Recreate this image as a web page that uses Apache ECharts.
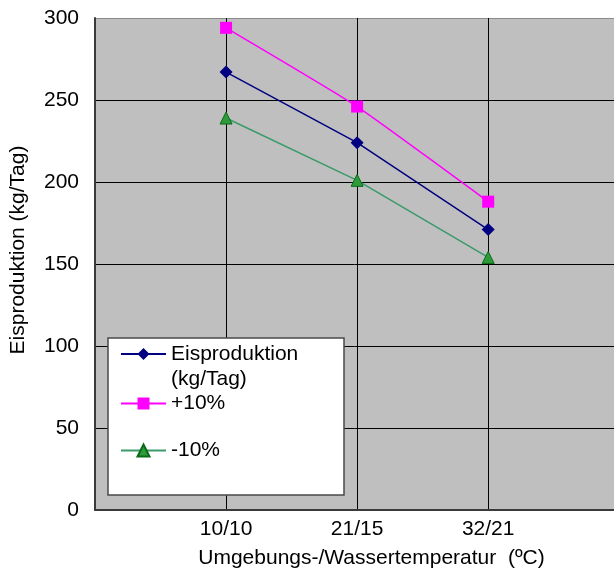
<!DOCTYPE html>
<html>
<head>
<meta charset="utf-8">
<script src="https://cdn.jsdelivr.net/npm/echarts@6/dist/echarts.min.js"></script>
<style>
html,body{margin:0;padding:0;background:#fff;}
#chart{width:614px;height:577px;}
</style>
</head>
<body>
<div id="chart"></div>
<script>
const categories = ['10/10', '21/15', '32/21'];
const eisproduktion = [267, 224, 171];
const plus10 = [294, 246, 188];
const minus10 = [239, 201, 154];
const seriesNames = ['Eisproduktion\n(kg/Tag)', '+10%', '-10%'];
const yTicks = [0, 50, 100, 150, 200, 250, 300];

const FONT = 'Liberation Sans, Arial, Helvetica, sans-serif';
const FS = 21;
const chart = echarts.init(document.getElementById('chart'), null, {renderer: 'canvas'});

// category i sits at x = i + 1 on a value axis that starts one slot before the first category
const toPairs = vals => vals.map((v, i) => [i + 1, v]);
const catLabel = v => {
  const i = Math.round(v) - 1;
  return (Math.abs(v - Math.round(v)) < 1e-6 && i >= 0 && i < categories.length) ? categories[i] : '';
};

const legendBase = {
  orient: 'vertical',
  left: 120,
  padding: 0,
  itemWidth: 45,
  itemHeight: 15,
  itemGap: 0,
  backgroundColor: 'transparent',
  textStyle: {fontFamily: FONT, fontSize: FS, color: '#000', lineHeight: 25}
};

chart.setOption({
  animation: false,
  backgroundColor: '#ffffff',
  grid: {
    left: 95, top: 18, right: 0, bottom: 67,
    show: true, backgroundColor: '#bfbfbf', borderWidth: 0
  },
  graphic: [{
    type: 'rect', z: 50,
    shape: {x: 108, y: 338, width: 236, height: 157},
    style: {fill: '#ffffff', stroke: '#4a4a4a', lineWidth: 1.5}
  }],
  legend: [
    Object.assign({}, legendBase, {top: 316.5, z: 60,
      formatter: n => '\n' + n,
      data: [seriesNames[0]]}),
    Object.assign({}, legendBase, {top: 391, z: 60, data: [seriesNames[1]]}),
    Object.assign({}, legendBase, {top: 438, z: 60, data: [seriesNames[2]]})
  ],
  xAxis: {
    type: 'value',
    min: 0, max: 3.96, interval: 1,
    name: 'Umgebungs-/Wassertemperatur  (ºC)',
    nameLocation: 'middle',
    nameGap: 38,
    nameTextStyle: {fontFamily: FONT, fontSize: FS, color: '#000', padding: [0, 0, 0, 34]},
    axisLine: {show: true, onZero: false, lineStyle: {color: '#3a3a3a', width: 2}},
    axisTick: {show: false},
    axisLabel: {fontFamily: FONT, fontSize: FS, color: '#000', margin: 9, formatter: catLabel,
      showMaxLabel: false},
    splitLine: {show: true, lineStyle: {color: ['#000', '#000', '#000', '#000', 'rgba(0,0,0,0)'], width: 1}}
  },
  yAxis: {
    type: 'value',
    min: 0, max: 300, interval: 50,
    name: 'Eisproduktion (kg/Tag)',
    nameLocation: 'middle',
    nameGap: 66,
    nameTextStyle: {fontFamily: FONT, fontSize: FS, color: '#000', padding: [0, 0, 0, 28]},
    axisLine: {show: true, lineStyle: {color: '#3a3a3a', width: 2}},
    axisTick: {show: false},
    axisLabel: {fontFamily: FONT, fontSize: FS, color: '#000', margin: 16,
      formatter: v => yTicks.indexOf(v) >= 0 ? String(v) : ''},
    splitLine: {show: true, lineStyle: {color: ['#000', '#000', '#000', '#000', '#000', '#000', '#8a8a8a'], width: 1}}
  },
  series: [
    {
      name: seriesNames[0], type: 'line', data: toPairs(eisproduktion),
      symbol: 'diamond', symbolSize: 13,
      lineStyle: {color: '#000080', width: 1.5},
      itemStyle: {color: '#000080'}
    },
    {
      name: seriesNames[1], type: 'line', data: toPairs(plus10), smooth: 0.15,
      symbol: 'rect', symbolSize: 12,
      lineStyle: {color: '#ff00ff', width: 1.5},
      itemStyle: {color: '#ff00ff'}
    },
    {
      name: seriesNames[2], type: 'line', data: toPairs(minus10),
      symbol: 'triangle', symbolSize: 12,
      lineStyle: {color: '#3a9a6c', width: 1.5},
      itemStyle: {color: '#2f9a3a', borderColor: '#0a6a1a', borderWidth: 1}
    }
  ]
});
</script>
</body>
</html>
